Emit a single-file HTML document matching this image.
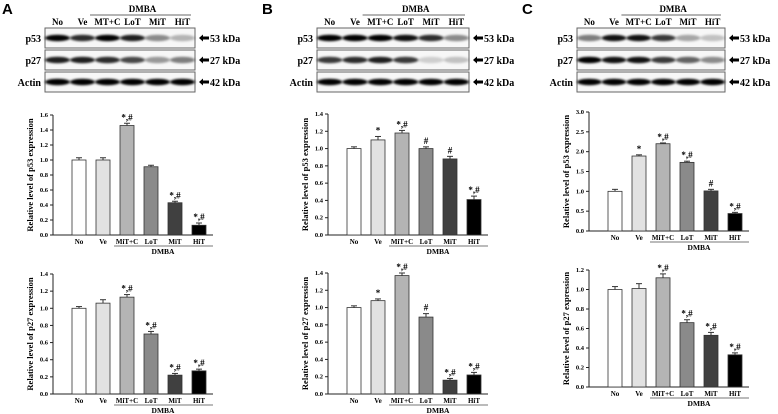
<!DOCTYPE html>
<html><head><meta charset="utf-8"><style>
body{margin:0;background:#fff}
svg{display:block;font-family:"Liberation Serif",serif}
svg text{font-weight:bold}
.pl{font-family:"Liberation Sans",sans-serif;font-weight:bold;font-size:15px}
</style></head><body>
<svg id="fig" width="778" height="414" viewBox="0 0 778 414">
<defs><filter id="bl" x="-20%" y="-100%" width="140%" height="300%"><feGaussianBlur stdDeviation="1.4 1.0"/></filter></defs>
<text class="pl" x="2" y="14">A</text>
<text class="pl" x="262" y="14">B</text>
<text class="pl" x="522" y="14">C</text>
</svg>
<script>
const cats=["No","Ve","MiT+C","LoT","MiT","HiT"];
const lanes=["No","Ve","MT+C","LoT","MiT","HiT"];
const fills=["#ffffff","#e2e2e2","#b4b4b4","#8a8a8a","#404040","#000000"];
const aP53=[1.0,1.0,1.46,0.91,0.43,0.13];
const aP53e=[0.03,0.03,0.03,0.02,0.02,0.03];
const aP53s=["","","*,#","","*,#","*,#"];
const aP27=[1.0,1.06,1.13,0.70,0.22,0.27];
const aP27e=[0.02,0.04,0.03,0.03,0.02,0.02];
const aP27s=["","","*,#","*,#","*,#","*,#"];
const bP53=[1.0,1.1,1.18,1.0,0.88,0.41];
const bP53e=[0.02,0.04,0.03,0.02,0.03,0.04];
const bP53s=["","*","*,#","#","#","*,#"];
const bP27=[1.0,1.08,1.37,0.89,0.16,0.22];
const bP27e=[0.02,0.02,0.03,0.04,0.02,0.03];
const bP27s=["","*","*,#","#","*,#","*,#"];
const cP53=[1.0,1.89,2.2,1.73,1.01,0.44];
const cP53e=[0.05,0.03,0.02,0.03,0.04,0.03];
const cP53s=["","*","*,#","*,#","#","*,#"];
const cP27=[1.0,1.01,1.12,0.66,0.53,0.33];
const cP27e=[0.03,0.05,0.04,0.03,0.03,0.02];
const cP27s=["","","*,#","*,#","*,#","*,#"];
const aTicks14=["0.0","0.2","0.4","0.6","0.8","1.0","1.2","1.4"];
const aTicks16=["0.0","0.2","0.4","0.6","0.8","1.0","1.2","1.4","1.6"];
const cTicks30=["0.0","0.5","1.0","1.5","2.0","2.5","3.0"];
const cTicks12=["0.0","0.2","0.4","0.6","0.8","1.0","1.2"];
const blotA=[[0.9,0.75,1,0.8,0.4,0.25],[0.8,0.8,0.75,0.65,0.35,0.45],[0.95,0.95,0.95,0.95,0.95,0.95]];
const blotB=[[0.95,0.95,0.95,0.85,0.75,0.4],[0.7,0.75,0.8,0.7,0.15,0.2],[0.95,0.95,0.95,0.95,0.95,0.95]];
const blotC=[[0.45,0.85,0.85,0.7,0.3,0.2],[0.95,0.85,0.85,0.7,0.55,0.4],[0.95,0.95,0.95,0.95,0.95,0.95]];
const S=document.getElementById('fig');const NS="http://www.w3.org/2000/svg";
function mk(t,a,p){const e=document.createElementNS(NS,t);for(const k in a)e.setAttribute(k,a[k]);(p||S).appendChild(e);return e;}
function tx(x,y,s,size,anchor,p){const e=mk('text',{x:x,y:y,'font-size':size,'text-anchor':anchor||'middle','font-weight':'bold'},p);e.textContent=s;return e;}

function chart(id,ax,yTop,y0,max,ticks,vals,errs,sig,title){
  const g=mk('g',{});
  
  
  const ys=v=>y0-(v/max)*(y0-yTop);
  const xs=i=>ax+26+i*24;
  const ya=mk('line',{x1:ax,y1:yTop,x2:ax,y2:y0,stroke:'#222','stroke-width':1},g);
  
  
  const xa=mk('line',{x1:ax,y1:y0,x2:ax+160,y2:y0,stroke:'#222','stroke-width':1},g);
  
  
  ticks.forEach((t,i)=>{const v=max*i/(ticks.length-1);const y=ys(v);
    mk('line',{x1:ax-3,y1:y,x2:ax,y2:y,stroke:'#222'},g);
    const l=tx(ax-5,y+2,t,6.5,'end',g);
    
    });
  vals.forEach((v,i)=>{const cx=xs(i);const y=ys(v);
    const b=mk('rect',{x:cx-7,y:y,width:14,height:y0-y,fill:fills[i],stroke:'#333','stroke-width':0.8},g);
    
    
    const ye=ys(v+errs[i]);
    mk('line',{x1:cx,y1:y,x2:cx,y2:ye,stroke:'#333','stroke-width':1},g);
    mk('line',{x1:cx-3,y1:ye,x2:cx+3,y2:ye,stroke:'#333','stroke-width':1},g);
    if(sig[i]){const s=tx(cx,ye-3,sig[i],9,'middle',g);s.setAttribute('font-weight','normal');
      
      }
    const c=tx(cx,y0+9,cats[i],7,'middle',g);
    
    });
  mk('line',{x1:ax+61,y1:y0+11,x2:ax+160,y2:y0+11,stroke:'#777','stroke-width':1},g);
  const d=tx(ax+110,y0+19,'DMBA',7.5,'middle',g);
  
  
  const tt=tx(0,0,title,8.5,'middle',g);
  tt.setAttribute('transform','translate('+(ax-20)+','+((yTop+y0)/2)+') rotate(-90)');
  
  
}
chart('chart-a-p53',53,115,235,1.6,aTicks16,aP53,aP53e,aP53s,'Relative level of p53 expression');
chart('chart-a-p27',53,274,394,1.4,aTicks14,aP27,aP27e,aP27s,'Relative level of p27 expression');
chart('chart-b-p53',328,114,235,1.4,aTicks14,bP53,bP53e,bP53s,'Relative level of p53 expression');
chart('chart-b-p27',328,273,394,1.4,aTicks14,bP27,bP27e,bP27s,'Relative level of p27 expression');
chart('chart-c-p53',589,112,231,3.0,cTicks30,cP53,cP53e,cP53s,'Relative level of p53 expression');
chart('chart-c-p27',589,270,387,1.2,cTicks12,cP27,cP27e,cP27s,'Relative level of p27 expression');

function blot(id,bx,bw,data){
  const g=mk('g',{});
  
  
  const names=["p53","p27","Actin"],kd=["53 kDa","27 kDa","42 kDa"];
  const lw=bw/6;
  lanes.forEach((l,i)=>{const t=tx(bx+lw*(i+0.5),25,l,9,'middle',g);
    
    });
  mk('line',{x1:bx+lw*1.8,y1:15,x2:bx+bw-4,y2:15,stroke:'#888','stroke-width':1.2},g);
  const d=tx(bx+lw*3.9,12,'DMBA',9,'middle',g);
  
  
  names.forEach((n,r)=>{const y=28+r*22;
    const box=mk('rect',{x:bx,y:y,width:bw,height:20,fill:'#f7f7f7',stroke:'#666','stroke-width':1},g);
    
    
    data[r].forEach((v,i)=>{mk('ellipse',{cx:bx+lw*(i+0.5),cy:y+10,rx:lw*0.5,ry:3.2,fill:'#000','fill-opacity':Math.min(1,v*1.1),filter:'url(#bl)'},g);});
    const lb=tx(bx-4,y+14,n,10,'end',g);
    
    
    const ax0=bx+bw+4, ay=y+10;
    const ar=mk('polygon',{points:`${ax0},${ay} ${ax0+4},${ay-3.5} ${ax0+4},${ay-1.5} ${ax0+10},${ay-1.5} ${ax0+10},${ay+1.5} ${ax0+4},${ay+1.5} ${ax0+4},${ay+3.5}`,fill:'#000'},g);
    
    
    const k=tx(bx+bw+15,y+14,kd[r],10,'start',g);
    
    });
}
blot('blot-a',45,150,blotA);
blot('blot-b',317,152,blotB);
blot('blot-c',577,148,blotC);
</script>
</body></html>
